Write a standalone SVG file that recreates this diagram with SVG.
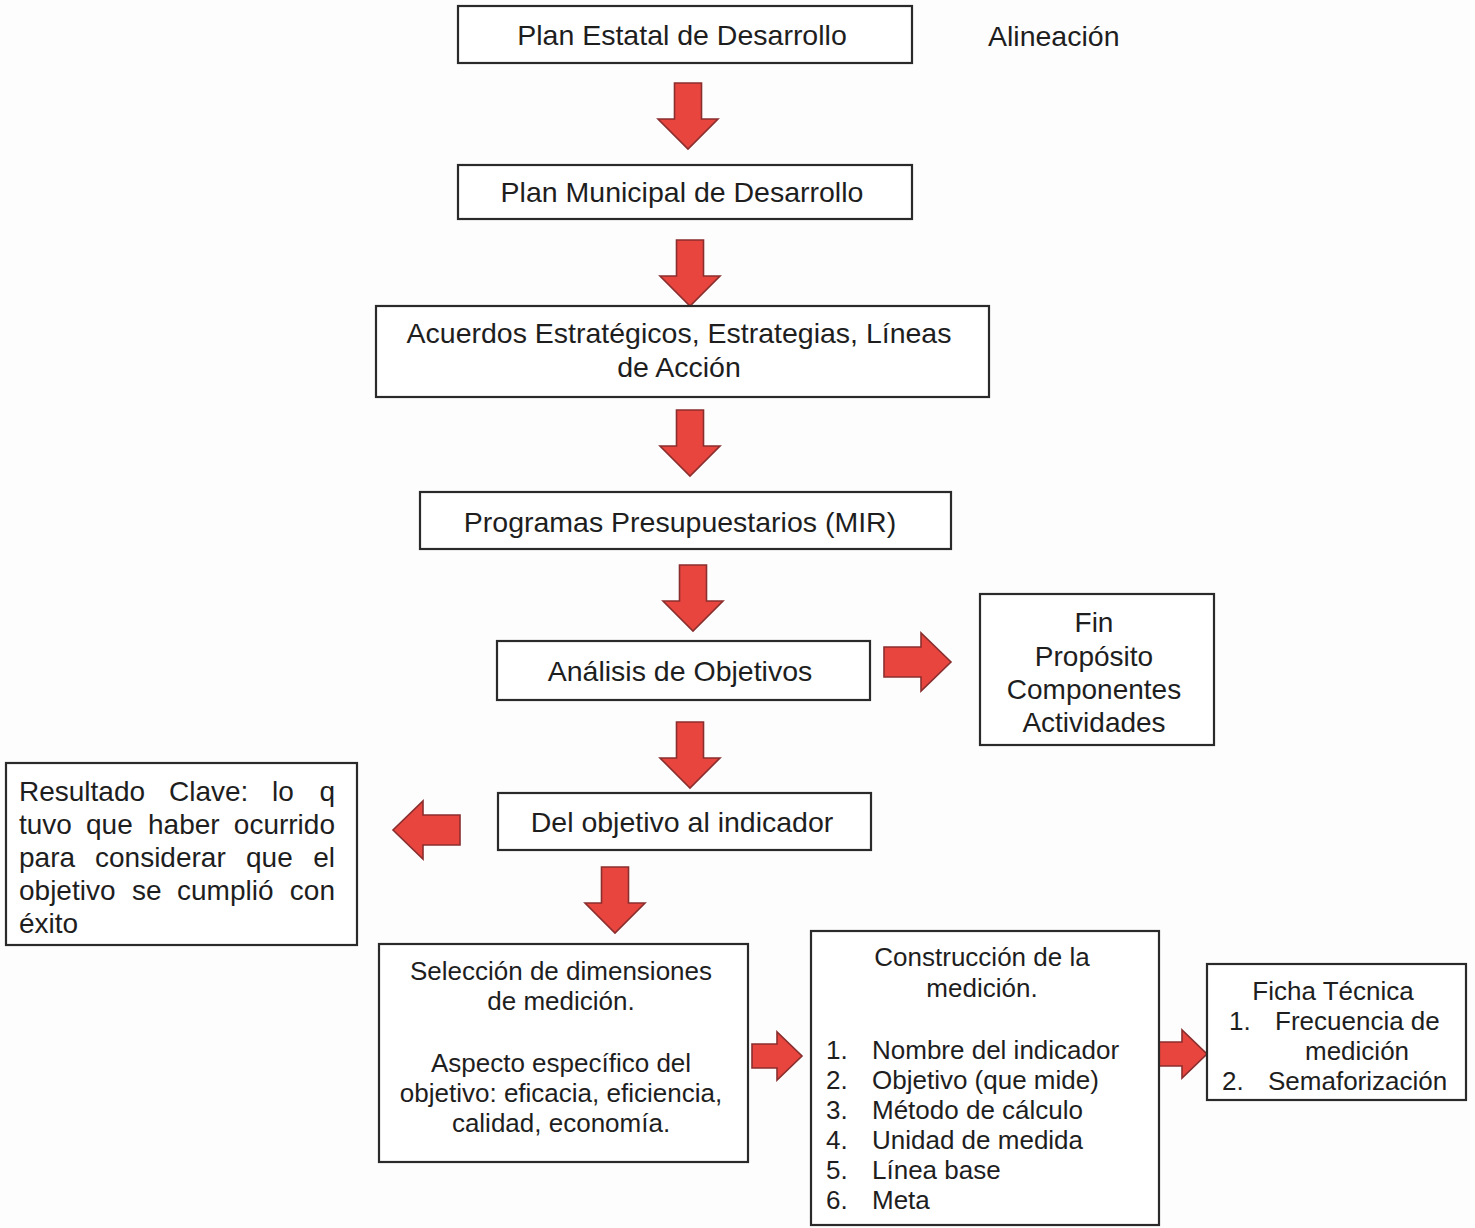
<svg xmlns="http://www.w3.org/2000/svg" xmlns:xlink="http://www.w3.org/1999/xlink" width="1475" height="1228" viewBox="0 0 1475 1228">
<style>
.box{fill:#fff;stroke:#2a2a2a;stroke-width:2.2}
.t{font-family:"Liberation Sans",Arial,sans-serif;fill:#1e1e1e}
.big{font-size:28.5px}
.res{font-size:28px}
.med{font-size:26px}
.c{text-anchor:middle}
.e{text-anchor:end}
.arr{fill:#e8453f;stroke:#8a2e2e;stroke-width:1.6;stroke-linejoin:miter}
</style>
<defs>
<path id="down" d="M-13.5,0 H13.5 V36 H30 L0,66 L-30,36 H-13.5 Z"/>
<path id="right" d="M0,-15 H37 V-29 L67,0 L37,29 V15 H0 Z"/>
<path id="rsmall" d="M0,-12 H25 V-24 L50,0 L25,24 V12 H0 Z"/>
</defs>
<rect width="1475" height="1228" fill="#fdfdfd"/>

<g id="connectors">
<use xlink:href="#down" class="arr" x="688" y="83"/>
<use xlink:href="#down" class="arr" x="690" y="240"/>
<use xlink:href="#down" class="arr" x="690" y="410"/>
<use xlink:href="#down" class="arr" x="693" y="565"/>
<use xlink:href="#down" class="arr" x="690" y="722"/>
<use xlink:href="#down" class="arr" x="615" y="867"/>
<use xlink:href="#right" class="arr" x="884" y="662"/>
<use xlink:href="#right" class="arr" transform="translate(460,830) scale(-1,1)"/>
<use xlink:href="#rsmall" class="arr" x="752" y="1056"/>
<use xlink:href="#rsmall" class="arr" x="1157" y="1054"/>
</g>

<g id="plan-estatal">
<rect class="box" x="458" y="6" width="454" height="57"/>
<text class="t big c" x="682" y="45">Plan Estatal de Desarrollo</text>
</g>
<g id="alineacion">
<text class="t big" x="988" y="46">Alineación</text>
</g>
<g id="plan-municipal">
<rect class="box" x="458" y="165" width="454" height="54"/>
<text class="t big c" x="682" y="202">Plan Municipal de Desarrollo</text>
</g>
<g id="acuerdos">
<rect class="box" x="376" y="306" width="613" height="91"/>
<text class="t big c" x="679" y="343">Acuerdos Estratégicos, Estrategias, Líneas</text>
<text class="t big c" x="679" y="377">de Acción</text>
</g>
<g id="programas">
<rect class="box" x="420" y="492" width="531" height="57"/>
<text class="t big c" x="680" y="532">Programas Presupuestarios (MIR)</text>
</g>
<g id="analisis">
<rect class="box" x="497" y="641" width="373" height="59"/>
<text class="t big c" x="680" y="681">Análisis de Objetivos</text>
</g>
<g id="fin">
<rect class="box" x="980" y="594" width="234" height="151"/>
<text class="t res c" x="1094" y="632">Fin</text>
<text class="t res c" x="1094" y="666">Propósito</text>
<text class="t res c" x="1094" y="699">Componentes</text>
<text class="t res c" x="1094" y="732">Actividades</text>
</g>
<g id="del-objetivo">
<rect class="box" x="498" y="793" width="373" height="57"/>
<text class="t big c" x="682" y="832">Del objetivo al indicador</text>
</g>
<g id="resultado">
<rect class="box" x="6" y="763" width="351" height="182"/>
<text class="t res" x="19" y="801">Resultado</text>
<text class="t res" x="169" y="801">Clave:</text>
<text class="t res" x="272" y="801">lo</text>
<text class="t res e" x="335" y="801">q</text>
<text class="t res" x="19" y="834">tuvo</text>
<text class="t res" x="86" y="834">que</text>
<text class="t res" x="148" y="834">haber</text>
<text class="t res e" x="335" y="834">ocurrido</text>
<text class="t res" x="19" y="867">para</text>
<text class="t res" x="95" y="867">considerar</text>
<text class="t res" x="246" y="867">que</text>
<text class="t res e" x="335" y="867">el</text>
<text class="t res" x="19" y="900">objetivo</text>
<text class="t res" x="132" y="900">se</text>
<text class="t res" x="177" y="900">cumplió</text>
<text class="t res e" x="335" y="900">con</text>
<text class="t res" x="19" y="933">éxito</text>
</g>
<g id="seleccion">
<rect class="box" x="379" y="944" width="369" height="218"/>
<text class="t med c" x="561" y="980">Selección de dimensiones</text>
<text class="t med c" x="561" y="1010">de medición.</text>
<text class="t med c" x="561" y="1072">Aspecto específico del</text>
<text class="t med c" x="561" y="1102">objetivo: eficacia, eficiencia,</text>
<text class="t med c" x="561" y="1132">calidad, economía.</text>
</g>
<g id="construccion">
<rect class="box" x="811" y="931" width="348" height="294"/>
<text class="t med c" x="982" y="966">Construcción de la</text>
<text class="t med c" x="982" y="997">medición.</text>
<text class="t med" x="826" y="1059">1.</text><text class="t med" x="872" y="1059">Nombre del indicador</text>
<text class="t med" x="826" y="1089">2.</text><text class="t med" x="872" y="1089">Objetivo (que mide)</text>
<text class="t med" x="826" y="1119">3.</text><text class="t med" x="872" y="1119">Método de cálculo</text>
<text class="t med" x="826" y="1149">4.</text><text class="t med" x="872" y="1149">Unidad de medida</text>
<text class="t med" x="826" y="1179">5.</text><text class="t med" x="872" y="1179">Línea base</text>
<text class="t med" x="826" y="1209">6.</text><text class="t med" x="872" y="1209">Meta</text>
</g>
<g id="ficha">
<rect class="box" x="1207" y="964" width="259" height="136"/>
<text class="t med c" x="1333" y="1000">Ficha Técnica</text>
<text class="t med" x="1229" y="1030">1.</text><text class="t med" x="1275" y="1030">Frecuencia de</text>
<text class="t med" x="1305" y="1060">medición</text>
<text class="t med" x="1222" y="1090">2.</text><text class="t med" x="1268" y="1090">Semaforización</text>
</g>
</svg>
